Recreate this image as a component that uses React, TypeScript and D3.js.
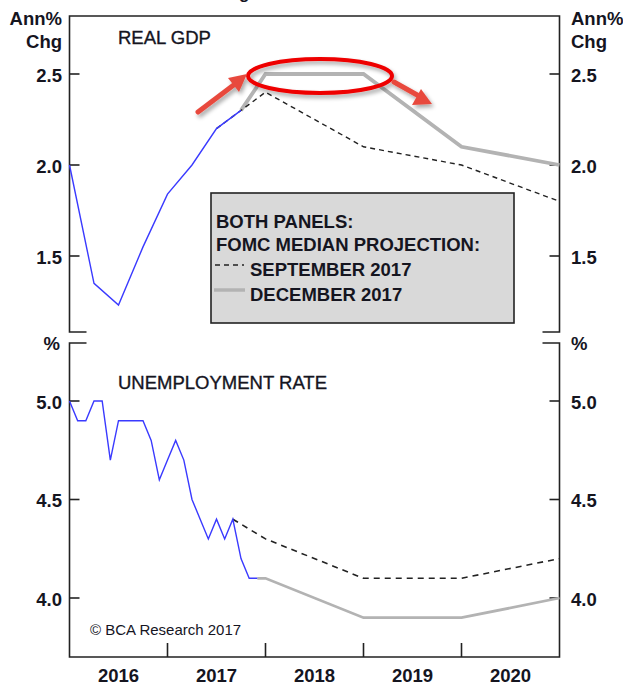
import React from "react";
import * as d3 from "d3";

// ---------- DATA ----------
const years = ["2016", "2017", "2018", "2019", "2020"];
const gdpQuarters = ["2015Q4", "2016Q1", "2016Q2", "2016Q3", "2016Q4", "2017Q1", "2017Q2", "2017Q3"];
const gdpActual = [2.0, 1.35, 1.23, 1.55, 1.84, 2.0, 2.2, 2.3];
const projYears = [2017, 2018, 2019, 2020];
const gdpSep = [2.4, 2.1, 2.0, 1.8];
const gdpDec = [2.5, 2.5, 2.1, 2.0];
const unempStart = "2015-12";
const unempActual = [5.0, 4.9, 4.9, 5.0, 5.0, 4.7, 4.9, 4.9, 4.9, 4.9, 4.8, 4.6, 4.7, 4.8, 4.7, 4.5, 4.4, 4.3, 4.4, 4.3, 4.4, 4.2, 4.1, 4.1];
const unempSep = [4.3, 4.1, 4.1, 4.2];
const unempDec = [4.1, 3.9, 3.9, 4.0];
const gdpTicks = [1.5, 2.0, 2.5];
const unempTicks = [4.0, 4.5, 5.0];
// last observation known at each projection round
const sepGdpStartQ = "2017Q2";
const decGdpStartQ = "2017Q3";
const sepUnempStartM = "2017-08";
const decUnempStartM = "2017-11";

// ---------- helpers ----------
const qToYear = (q: string) => +q.slice(0, 4) + (+q.slice(5)) / 4; // end of quarter
const mToYear = (m: string) => +m.slice(0, 4) + (+m.slice(5)) / 12; // end of month
const startM = mToYear(unempStart);
const unempPts = unempActual.map((v, i) => [startM + i / 12, v] as [number, number]);
const gdpPts = gdpQuarters.map((q, i) => [qToYear(q), gdpActual[i]] as [number, number]);
const gdpVal = (q: string) => gdpActual[gdpQuarters.indexOf(q)];
const unVal = (m: string) => unempActual[Math.round((mToYear(m) - startM) * 12)];
const proj = (vals: number[]) => projYears.map((y, i) => [y + 1, vals[i]] as [number, number]);

// ---------- layout ----------
const L = 69.5, R = 559.5;
const topT = 16, topB = 332, botT = 343, botB = 657;
const x = d3.scaleLinear().domain([2016, 2021]).range([L, R]);
const yTop = d3.scaleLinear().domain([1.5, 2.5]).range([256, 74]);
const yBot = d3.scaleLinear().domain([4.0, 5.0]).range([598, 401]);

const FONT = "'Liberation Sans', Arial, sans-serif";
const TXT = "#15151f";
const FS = 18.5;

export default function App() {
  const lineTop = d3.line<[number, number]>().x(d => x(d[0])).y(d => yTop(d[1]));
  const lineBot = d3.line<[number, number]>().x(d => x(d[0])).y(d => yBot(d[1]));

  const gdpSepPts: [number, number][] = [[qToYear(sepGdpStartQ), gdpVal(sepGdpStartQ)], ...proj(gdpSep)];
  const gdpDecPts: [number, number][] = [[qToYear(decGdpStartQ), gdpVal(decGdpStartQ)], ...proj(gdpDec)];
  const unSepPts: [number, number][] = [[mToYear(sepUnempStartM), unVal(sepUnempStartM)], ...proj(unempSep)];
  const unDecPts: [number, number][] = [[mToYear(decUnempStartM), unVal(decUnempStartM)], ...proj(unempDec)];

  const tickLen = 10;
  const bracket = 17;

  return (
    <svg width={623} height={686} style={{ position: "absolute", left: 0, top: 0, background: "#fff" }}
      fontFamily={FONT}>
      <defs>
        <filter id="sh" x="-30%" y="-30%" width="160%" height="160%">
          <feGaussianBlur in="SourceAlpha" stdDeviation="2" />
          <feOffset dx="2" dy="3" result="b" />
          <feComponentTransfer><feFuncA type="linear" slope="0.35" /></feComponentTransfer>
          <feMerge><feMergeNode /><feMergeNode in="SourceGraphic" /></feMerge>
        </filter>
      </defs>
      <rect width={623} height={686} fill="#fff" />
      {/* cut-off title fragment */}
      <text x={239} y={-1} fontSize={17} fontWeight="bold" fill={TXT}>g</text>

      {/* ---------- FRAMES & TICKS ---------- */}
      <g stroke="#222" strokeWidth={1.6} fill="none">
        <path d={`M${L + bracket},${topB}H${L}V${topT}H${R}V${topB}H${R - bracket}`} />
        <path d={`M${L + bracket},${botT}H${L}V${botB}H${R}V${botT}H${R - bracket}`} />
        {gdpTicks.map(t => (
          <g key={"gt" + t}>
            <line x1={L} x2={L + tickLen} y1={yTop(t)} y2={yTop(t)} />
            <line x1={R} x2={R - tickLen} y1={yTop(t)} y2={yTop(t)} />
          </g>
        ))}
        {unempTicks.map(t => (
          <g key={"ut" + t}>
            <line x1={L} x2={L + tickLen} y1={yBot(t)} y2={yBot(t)} />
            <line x1={R} x2={R - tickLen} y1={yBot(t)} y2={yBot(t)} />
          </g>
        ))}
        {years.slice(1).map(yr => (
          <line key={"xt" + yr} x1={x(+yr)} x2={x(+yr)} y1={botB} y2={botB - 14} />
        ))}
      </g>

      {/* axis labels */}
      <g fontSize={FS} fontWeight="bold" fill={TXT}>
        <text x={62} y={25} textAnchor="end">Ann%</text>
        <text x={62} y={47.5} textAnchor="end">Chg</text>
        <text x={571} y={25}>Ann%</text>
        <text x={571} y={47.5}>Chg</text>
        <text x={60} y={350} textAnchor="end">%</text>
        <text x={571} y={350}>%</text>
        {gdpTicks.map(t => (
          <g key={"gl" + t}>
            <text x={62} y={yTop(t) + 7.5} textAnchor="end">{t.toFixed(1)}</text>
            <text x={571} y={yTop(t) + 7.5}>{t.toFixed(1)}</text>
          </g>
        ))}
        {unempTicks.map(t => (
          <g key={"ul" + t}>
            <text x={62} y={yBot(t) + 7.5} textAnchor="end">{t.toFixed(1)}</text>
            <text x={571} y={yBot(t) + 7.5}>{t.toFixed(1)}</text>
          </g>
        ))}
        {years.map(yr => (
          <text key={"yl" + yr} x={x(+yr + 0.5)} y={682} textAnchor="middle">{yr}</text>
        ))}
      </g>

      <g fontSize={FS} fill={TXT} stroke={TXT} strokeWidth={0.35}>
        <text x={118} y={43.5}>REAL GDP</text>
        <text x={118} y={389}>UNEMPLOYMENT RATE</text>
      </g>
      <text x={90} y={635} fontSize={15} fill={TXT}>© BCA Research 2017</text>

      {/* ---------- LEGEND ---------- */}
      <rect x={211} y={193} width={303} height={130} fill="#d9d9d9" stroke="#222" strokeWidth={1.6} />
      <g fontSize={FS} fontWeight="bold" fill={TXT}>
        <text x={216} y={228}>BOTH PANELS:</text>
        <text x={216} y={251}>FOMC MEDIAN PROJECTION:</text>
        <text x={250} y={276}>SEPTEMBER 2017</text>
        <text x={250} y={301}>DECEMBER 2017</text>
      </g>
      <line x1={215} x2={244} y1={265} y2={265} stroke="#222" strokeWidth={1.5} strokeDasharray="5,4" />
      <line x1={214} x2={245} y1={290} y2={290} stroke="#b3b3b3" strokeWidth={3.5} />

      {/* ---------- SERIES: GDP ---------- */}
      <path d={lineTop(gdpDecPts)!} fill="none" stroke="#b3b3b3" strokeWidth={3.8} />
      <path d={lineTop(gdpSepPts)!} fill="none" stroke="#222" strokeWidth={1.4} strokeDasharray="5,4" />
      <path d={lineTop(gdpPts)!} fill="none" stroke="#3a3aff" strokeWidth={1.4} />

      {/* ---------- SERIES: UNEMPLOYMENT ---------- */}
      <path d={lineBot(unDecPts)!} fill="none" stroke="#b3b3b3" strokeWidth={2.8} />
      <path d={lineBot(unSepPts)!} fill="none" stroke="#222" strokeWidth={1.6} strokeDasharray="6,5" />
      <path d={lineBot(unempPts)!} fill="none" stroke="#3a3aff" strokeWidth={1.4} />

      {/* ---------- ANNOTATIONS ---------- */}
      <g filter="url(#sh)">
        <ellipse cx={320} cy={76} rx={72} ry={17} fill="none" stroke="#ee0000" strokeWidth={4} />
        <line x1={198} x2={235} y1={112} y2={84} stroke="#e84a3e" strokeWidth={5} strokeLinecap="round" />
        <path d="M247,74 L228,78 L239,92 Z" fill="#e84a3e" />
        <line x1={394} x2={419} y1={82} y2={96} stroke="#e84a3e" strokeWidth={5} strokeLinecap="round" />
        <path d="M432,104 L412,105 L421,89 Z" fill="#e84a3e" />
      </g>
    </svg>
  );
}
